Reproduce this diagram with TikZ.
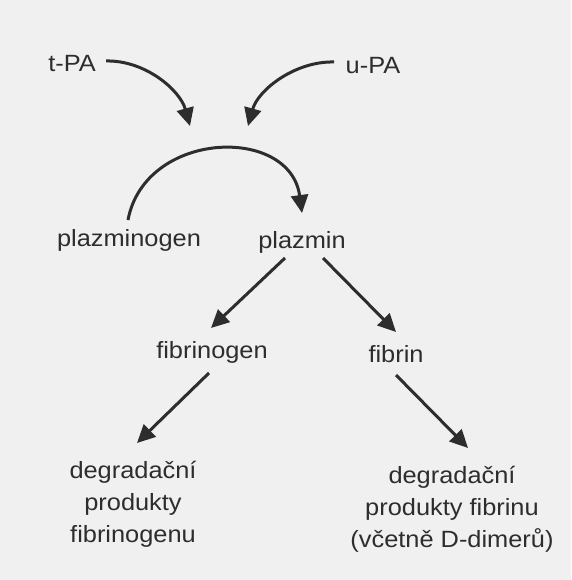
\documentclass[tikz,border=0pt]{standalone}
\usepackage{fontspec}
\setmainfont{Liberation Sans}[FakeStretch=1.08]
\usetikzlibrary{arrows.meta}
\definecolor{bg}{RGB}{240,240,240}
\definecolor{ink}{RGB}{45,45,45}
\tikzset{
  lbl/.style={font=\fontsize{23.5}{32}\selectfont, text=ink, inner sep=0pt, anchor=base, align=center},
  arr/.style={draw=ink, line width=3pt, -{Triangle[length=18pt,width=17pt]}},
}
\begin{document}
\begin{tikzpicture}[x=1pt,y=-1pt]
\fill[bg] (0,0) rectangle (571,580);
\useasboundingbox (0,0) rectangle (571,580);
% labels (base anchor = baseline of the last line)
\node[lbl] (tpa) at (72,72) {t-PA};
\node[lbl] (upa) at (373,74) {u-PA};
\node[lbl] (plg) at (129,246) {plazminogen};
\node[lbl] (pl)  at (302,248) {plazmin};
\node[lbl] (fbg) at (212,358) {fibrinogen};
\node[lbl] (fb)  at (396,362) {fibrin};
\node[lbl] (fdpl) at (133,542) {degradační\\produkty\\fibrinogenu};
\node[lbl] (fdpr) at (452,547) {degradační\\produkty fibrinu\\(včetně D-dimerů)};
% convergence points of the activator arrows
\coordinate (ta) at (190,126);
\coordinate (ua) at (248,126);
% connectors
\draw[arr] ([shift={(34,-11)}]tpa.base) .. controls (145,60) and (180,90) .. (ta);
\draw[arr] ([shift={(-39,-12)}]upa.base) .. controls (295,61) and (258,90) .. (ua);
\draw[arr] ([shift={(-1,-26)}]plg.base) .. controls (145,130) and (290,125) .. ([shift={(0,-35)}]pl.base);
\draw[arr] ([shift={(-17,10)}]pl.base) -- ([shift={(-1,-30)}]fbg.base);
\draw[arr] ([shift={(21,10)}]pl.base) -- ([shift={(0,-30)}]fb.base);
\draw[arr] ([shift={(-3,15)}]fbg.base) -- ([shift={(4,-99)}]fdpl.base);
\draw[arr] ([shift={(0,13)}]fb.base) -- ([shift={(16,-99)}]fdpr.base);
\end{tikzpicture}
\end{document}
